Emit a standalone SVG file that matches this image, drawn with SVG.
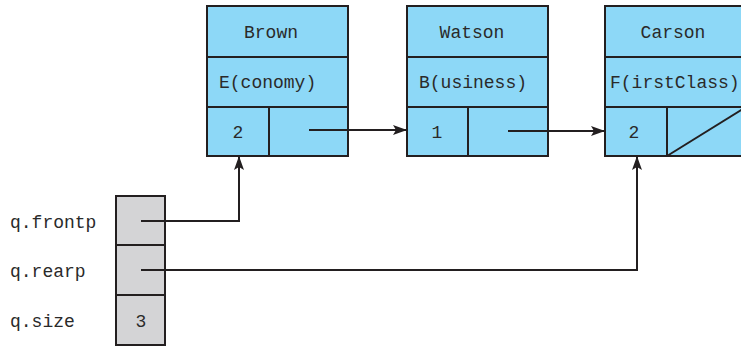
<svg xmlns="http://www.w3.org/2000/svg" width="741" height="346" viewBox="0 0 741 346">
<style>
.node rect{fill:#8dd8f7;stroke:#231f20;stroke-width:2}
.node line{stroke:#231f20;stroke-width:2}
.q rect{fill:#d4d4d6;stroke:#231f20;stroke-width:2}
text{font-family:"Liberation Mono","Courier New",monospace;font-size:18px;fill:#2a2a2a}
.c{text-anchor:middle}
.conn path{fill:none;stroke:#231f20;stroke-width:2}
</style>
<defs>
<marker id="ah" markerWidth="14" markerHeight="10" refX="13" refY="5" orient="auto" markerUnits="userSpaceOnUse">
<path d="M0,0 L14,5 L0,10 L3,5 Z" fill="#231f20"/>
</marker>
</defs>
<rect width="741" height="346" fill="#fff"/>
<g id="brown" class="node">
<rect x="207" y="6" width="141" height="150"/>
<line x1="207" y1="57" x2="348" y2="57"/>
<line x1="207" y1="107" x2="348" y2="107"/>
<line x1="269" y1="107" x2="269" y2="156"/>
<text class="c" x="271" y="38">Brown</text>
<text x="219" y="88">E(conomy)</text>
<text class="c" x="238" y="138">2</text>
</g>
<g id="watson" class="node">
<rect x="407" y="6" width="141" height="150"/>
<line x1="407" y1="57" x2="548" y2="57"/>
<line x1="407" y1="107" x2="548" y2="107"/>
<line x1="468" y1="107" x2="468" y2="156"/>
<text class="c" x="472" y="38">Watson</text>
<text x="419" y="88">B(usiness)</text>
<text class="c" x="437" y="138">1</text>
</g>
<g id="carson" class="node">
<rect x="605" y="6" width="141" height="150"/>
<line x1="605" y1="57" x2="746" y2="57"/>
<line x1="605" y1="107" x2="746" y2="107"/>
<line x1="667" y1="107" x2="667" y2="156"/>
<line x1="667" y1="156" x2="746" y2="107"/>
<text class="c" x="673" y="38">Carson</text>
<text x="610" y="88">F(irstClass)</text>
<text class="c" x="634" y="138">2</text>
</g>
<g id="queue" class="q">
<rect x="116" y="196" width="49" height="149"/>
<line x1="116" y1="245" x2="165" y2="245" stroke="#231f20" stroke-width="2"/>
<line x1="116" y1="295" x2="165" y2="295" stroke="#231f20" stroke-width="2"/>
<text class="c" x="141" y="327">3</text>
</g>
<g id="labels">
<text x="10" y="228">q.frontp</text>
<text x="10" y="277">q.rearp</text>
<text x="10" y="327">q.size</text>
</g>
<g class="conn" id="connectors">
<path d="M309,130 H406" marker-end="url(#ah)"/>
<path d="M508,131 H604" marker-end="url(#ah)"/>
<path d="M141,221 H239 V157" marker-end="url(#ah)"/>
<path d="M141,270 H637 V157" marker-end="url(#ah)"/>
</g>
</svg>
